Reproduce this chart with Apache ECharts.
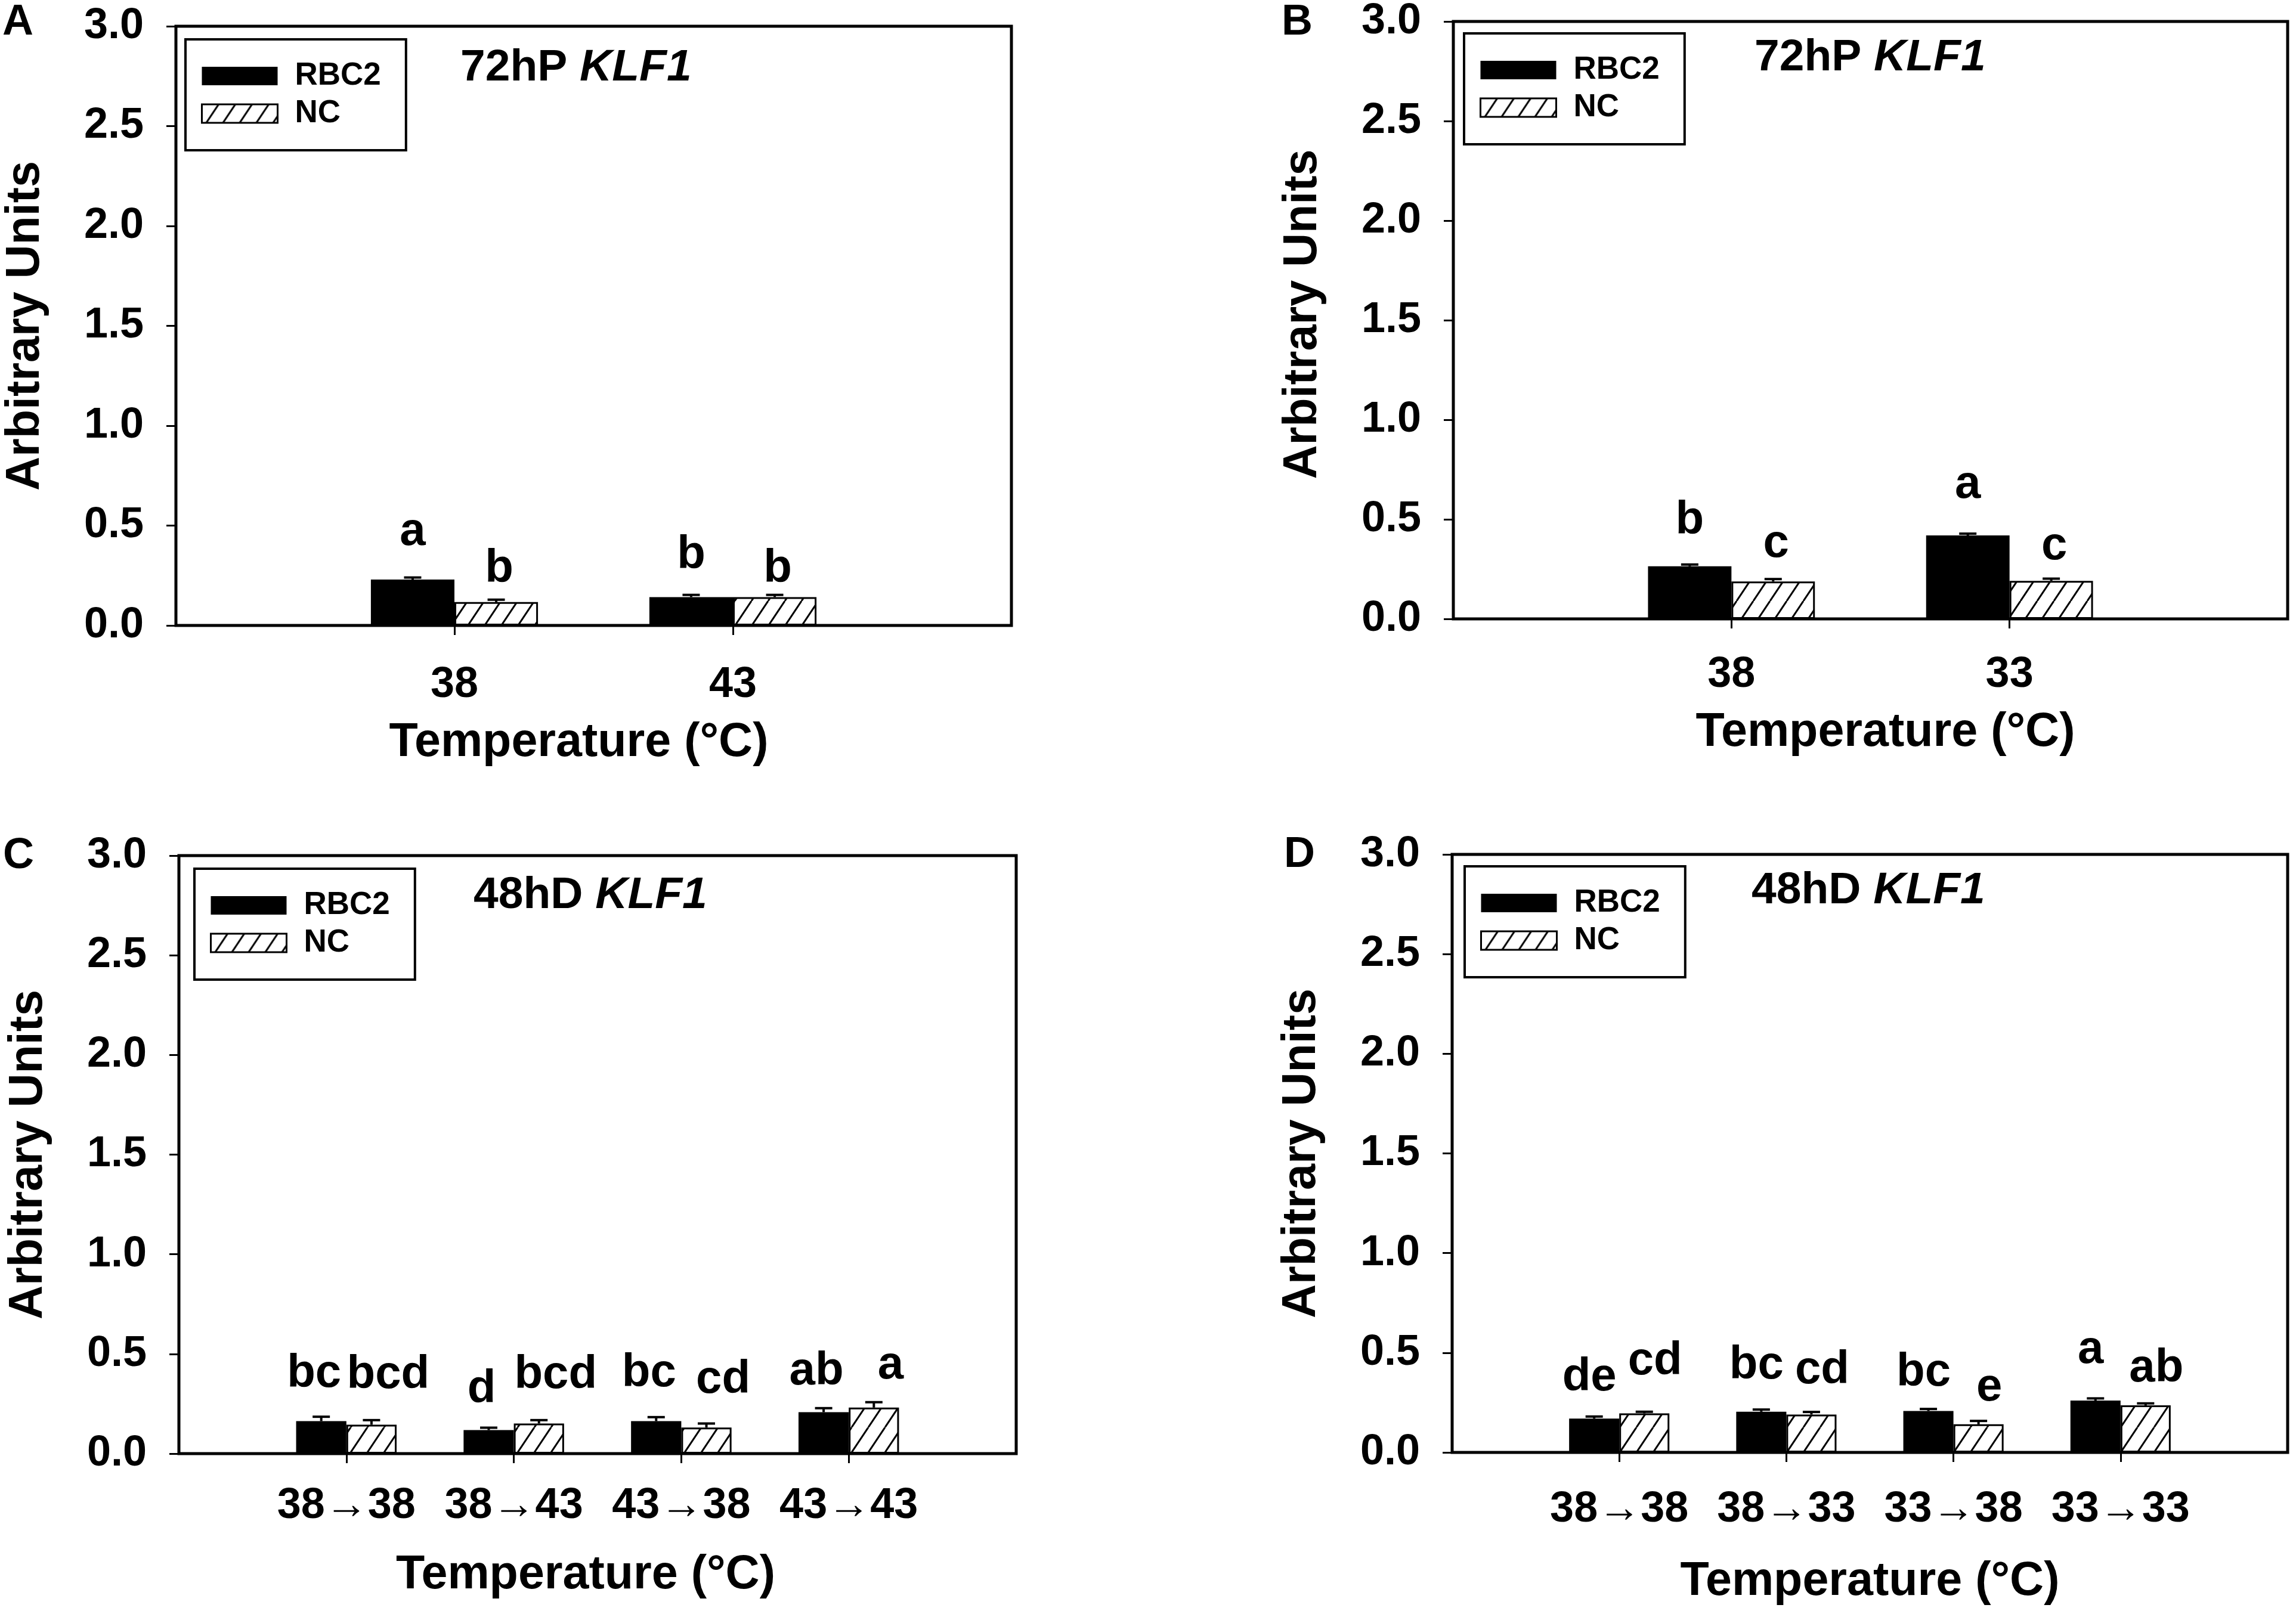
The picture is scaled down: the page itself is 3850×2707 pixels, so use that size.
<!DOCTYPE html>
<html>
<head>
<meta charset="utf-8" />
<title>KLF1</title>
<script src="https://cdn.jsdelivr.net/npm/echarts@6/dist/echarts.min.js"></script>
<style>
  html, body { margin: 0; padding: 0; background: #fff; }
  #main { width: 3850px; height: 2707px; }
</style>
</head>
<body>
<div id="main"></div>
<script type="text/javascript">
// ---- data ----
var catsA = ['38', '43'];
var rbc2A = [0.230, 0.142];
var rbc2ErrA = [0.010, 0.011];
var ncA = [0.117, 0.142];
var ncErrA = [0.012, 0.011];
var lettersRbc2A = ['a', 'b'];
var lettersNcA = ['b', 'b'];
var letterYRbc2A = [0.391, 0.272];
var letterYNcA = [0.204, 0.204];

var catsB = ['38', '33'];
var rbc2B = [0.264, 0.419];
var rbc2ErrB = [0.009, 0.009];
var ncB = [0.188, 0.191];
var ncErrB = [0.012, 0.011];
var lettersRbc2B = ['b', 'a'];
var lettersNcB = ['c', 'c'];
var letterYRbc2B = [0.414, 0.595];
var letterYNcB = [0.299, 0.285];

var catsC = ['38→38', '38→43', '43→38', '43→43'];
var rbc2C = [0.163, 0.118, 0.163, 0.208];
var rbc2ErrC = [0.022, 0.012, 0.020, 0.020];
var ncC = [0.145, 0.151, 0.131, 0.231];
var ncErrC = [0.023, 0.017, 0.020, 0.027];
var lettersRbc2C = ['bc', 'd', 'bc', 'ab'];
var lettersNcC = ['bcd', 'bcd', 'cd', 'a'];
var letterYRbc2C = [0.323, 0.243, 0.325, 0.335];
var letterYNcC = [0.315, 0.315, 0.293, 0.363];

var catsD = ['38→38', '38→33', '33→38', '33→33'];
var rbc2D = [0.170, 0.204, 0.208, 0.260];
var rbc2ErrD = [0.010, 0.011, 0.010, 0.011];
var ncD = [0.196, 0.190, 0.141, 0.236];
var ncErrD = [0.008, 0.013, 0.017, 0.010];
var lettersRbc2D = ['de', 'bc', 'bc', 'a'];
var lettersNcD = ['cd', 'cd', 'e', 'ab'];
var letterYRbc2D = [0.297, 0.356, 0.322, 0.435];
var letterYNcD = [0.377, 0.335, 0.248, 0.342];

var panelTags = ['A', 'B', 'C', 'D'];
var panelTitles = [['72hP ', 'KLF1'], ['72hP ', 'KLF1'], ['48hD ', 'KLF1'], ['48hD ', 'KLF1']];

var panels = [
  { cats: catsA, r: rbc2A, re: rbc2ErrA, n: ncA, ne: ncErrA, lr: lettersRbc2A, ln: lettersNcA, yr: letterYRbc2A, yn: letterYNcA },
  { cats: catsB, r: rbc2B, re: rbc2ErrB, n: ncB, ne: ncErrB, lr: lettersRbc2B, ln: lettersNcB, yr: letterYRbc2B, yn: letterYNcB },
  { cats: catsC, r: rbc2C, re: rbc2ErrC, n: ncC, ne: ncErrC, lr: lettersRbc2C, ln: lettersNcC, yr: letterYRbc2C, yn: letterYNcC },
  { cats: catsD, r: rbc2D, re: rbc2ErrD, n: ncD, ne: ncErrD, lr: lettersRbc2D, ln: lettersNcD, yr: letterYRbc2D, yn: letterYNcD }
];

// ---- layout (pixels) ----
var layouts = [
  { L: 295, R: 1696, T: 44, B: 1049, legend: [311, 66], title: [772, 77], tag: [4, 2], xMargin: 64, xNameGap: 158,
    xNamePad: [0, 50, 0, 0], yNamePad: [0, 0, 0, 0], spreadR: 0, spreadN: 5 },
  { L: 2437, R: 3836, T: 35, B: 1038, legend: [2455, 56], title: [2942, 60], tag: [2149, 2], xMargin: 58, xNameGap: 152,
    xNamePad: [0, 0, 0, 50], yNamePad: [0, 0, 0, 20], spreadR: 0, spreadN: 5 },
  { L: 300, R: 1704, T: 1435, B: 2438, legend: [326, 1457], title: [794, 1465], tag: [5, 1400], xMargin: 52, xNameGap: 165,
    xNamePad: [0, 40, 0, 0], yNamePad: [0, 0, 0, 0], spreadR: -12, spreadN: 28 },
  { L: 2435, R: 3836, T: 1433, B: 2436, legend: [2456, 1453], title: [2937, 1457], tag: [2153, 1398], xMargin: 60, xNameGap: 178,
    xNamePad: [0, 0, 0, 0], yNamePad: [0, 0, 0, 0], spreadR: -8, spreadN: 18 }
];

var FONT = '"Liberation Sans", Arial, sans-serif';
var LETTER_SIZE = 78;

function makeHatch() {
  var w = 28, h = 42;
  var c = document.createElement('canvas');
  c.width = w; c.height = h;
  var ctx = c.getContext('2d');
  ctx.fillStyle = '#fff';
  ctx.fillRect(0, 0, w, h);
  ctx.strokeStyle = '#000';
  ctx.lineWidth = 3;
  ctx.beginPath();
  for (var k = -1; k <= 1; k++) {
    ctx.moveTo(k * w, h);
    ctx.lineTo(k * w + w, 0);
  }
  ctx.stroke();
  return c;
}
var hatch = { image: makeHatch(), repeat: 'repeat' };

var myChart = echarts.init(document.getElementById('main'), null, { renderer: 'canvas' });

var option = {
  backgroundColor: '#fff',
  animation: false,
  title: [],
  legend: [],
  grid: [],
  xAxis: [],
  yAxis: [],
  series: []
};

panels.forEach(function (p, i) {
  var lay = layouts[i];
  var pad = function (arr) { return ['-'].concat(arr).concat(['-']); };

  option.grid.push({
    left: lay.L, top: lay.T, width: lay.R - lay.L, height: lay.B - lay.T,
    show: true, borderColor: '#000', borderWidth: 5, containLabel: false
  });

  option.xAxis.push({
    type: 'category', gridIndex: i, boundaryGap: false,
    data: [''].concat(p.cats).concat(['']),
    name: 'Temperature (°C)', nameLocation: 'middle', nameGap: lay.xNameGap,
    nameTextStyle: { fontFamily: FONT, fontWeight: 'bold', fontSize: 79, lineHeight: 79, color: '#000', padding: lay.xNamePad },
    axisLine: { show: true, lineStyle: { color: '#000', width: 4 } },
    axisTick: { show: true, inside: false, length: 16, lineStyle: { color: '#000', width: 3 },
      interval: function (idx, val) { return val !== ''; } },
    axisLabel: { show: true, margin: lay.xMargin, interval: 0, fontFamily: FONT, fontWeight: 'bold',
      fontSize: 72, lineHeight: 72, color: '#000' },
    splitLine: { show: false }
  });

  option.yAxis.push({
    type: 'value', gridIndex: i, min: 0, max: 3, interval: 0.5,
    name: 'Arbitrary Units', nameLocation: 'middle', nameGap: 212, nameRotate: 90,
    nameTextStyle: { fontFamily: FONT, fontWeight: 'bold', fontSize: 79, lineHeight: 79, color: '#000', padding: lay.yNamePad },
    axisLine: { show: true, lineStyle: { color: '#000', width: 4 } },
    axisTick: { show: true, inside: false, length: 16, lineStyle: { color: '#000', width: 3 } },
    axisLabel: { margin: 54, fontFamily: FONT, fontWeight: 'bold', fontSize: 72, color: '#000',
      formatter: function (v) { return v.toFixed(1); } },
    splitLine: { show: false }
  });

  option.series.push({
    name: 'RBC2', type: 'bar', xAxisIndex: i, yAxisIndex: i,
    barWidth: '30%', barGap: '0%',
    itemStyle: { color: '#000', borderColor: '#000', borderWidth: 0 },
    data: pad(p.r), z: 2
  });
  option.series.push({
    name: 'NC', type: 'bar', xAxisIndex: i, yAxisIndex: i,
    barWidth: '30%', barGap: '0%',
    itemStyle: { color: hatch, borderColor: '#000', borderWidth: 3 },
    data: pad(p.n), z: 2
  });

  // error bars + significance letters
  var errData = [], letters = [];
  p.cats.forEach(function (c, j) {
    errData.push([j + 1, 0, p.r[j], p.re[j], p.yr[j]]);
    letters.push(p.lr[j]);
    errData.push([j + 1, 1, p.n[j], p.ne[j], p.yn[j]]);
    letters.push(p.ln[j]);
  });
  option.series.push({
    type: 'custom', xAxisIndex: i, yAxisIndex: i, z: 5,
    encode: { x: 0, y: 2 },
    data: errData,
    renderItem: function (params, api) {
      var x = api.value(0), s = api.value(1), m = api.value(2), e = api.value(3), ly = api.value(4);
      var p0 = api.coord([x, m]);
      var p1 = api.coord([x, m + e]);
      var step = api.coord([x + 1, m])[0] - p0[0];
      var bw = step * 0.3;
      var cx = p0[0] + (s === 0 ? -bw / 2 : bw / 2);
      var pl = api.coord([x, ly]);
      return {
        type: 'group',
        children: [
          { type: 'line', shape: { x1: cx, y1: p0[1], x2: cx, y2: p1[1] }, style: { stroke: '#000', lineWidth: 4 } },
          { type: 'line', shape: { x1: cx - 14.5, y1: p1[1], x2: cx + 14.5, y2: p1[1] }, style: { stroke: '#000', lineWidth: 4 } },
          { type: 'text', style: { text: letters[params.dataIndex], x: cx + (s === 0 ? lay.spreadR : lay.spreadN),
            y: pl[1] + 13, align: 'center', verticalAlign: 'bottom',
            font: 'bold ' + LETTER_SIZE + 'px ' + FONT, fill: '#000' } }
        ]
      };
    }
  });

  option.legend.push({
    left: lay.legend[0], top: lay.legend[1], orient: 'vertical',
    itemWidth: 127, itemHeight: 31, itemGap: 10,
    padding: [35, 42, 35, 26],
    borderColor: '#000', borderWidth: 4, backgroundColor: '#fff',
    selectedMode: false,
    textStyle: { fontFamily: FONT, fontWeight: 'bold', fontSize: 53, lineHeight: 53, color: '#000', padding: [0, 0, 0, 24] },
    data: [
      { name: 'RBC2', icon: 'rect', itemStyle: { color: '#000', borderWidth: 0 } },
      { name: 'NC', icon: 'rect', itemStyle: { color: hatch, borderColor: '#000', borderWidth: 3 } }
    ]
  });

  option.title.push({
    left: lay.title[0], top: lay.title[1], padding: 0,
    text: '{n|' + panelTitles[i][0] + '}{i|' + panelTitles[i][1] + '}',
    textStyle: {
      rich: {
        n: { fontFamily: FONT, fontWeight: 'bold', fontSize: 75, lineHeight: 75, color: '#000' },
        i: { fontFamily: FONT, fontWeight: 'bold', fontStyle: 'italic', fontSize: 75, lineHeight: 75, color: '#000' }
      }
    }
  });
  option.title.push({
    left: lay.tag[0], top: lay.tag[1], padding: 0,
    text: panelTags[i],
    textStyle: { fontFamily: FONT, fontWeight: 'bold', fontSize: 72, lineHeight: 72, color: '#000' }
  });
});

myChart.setOption(option);
</script>
</body>
</html>
